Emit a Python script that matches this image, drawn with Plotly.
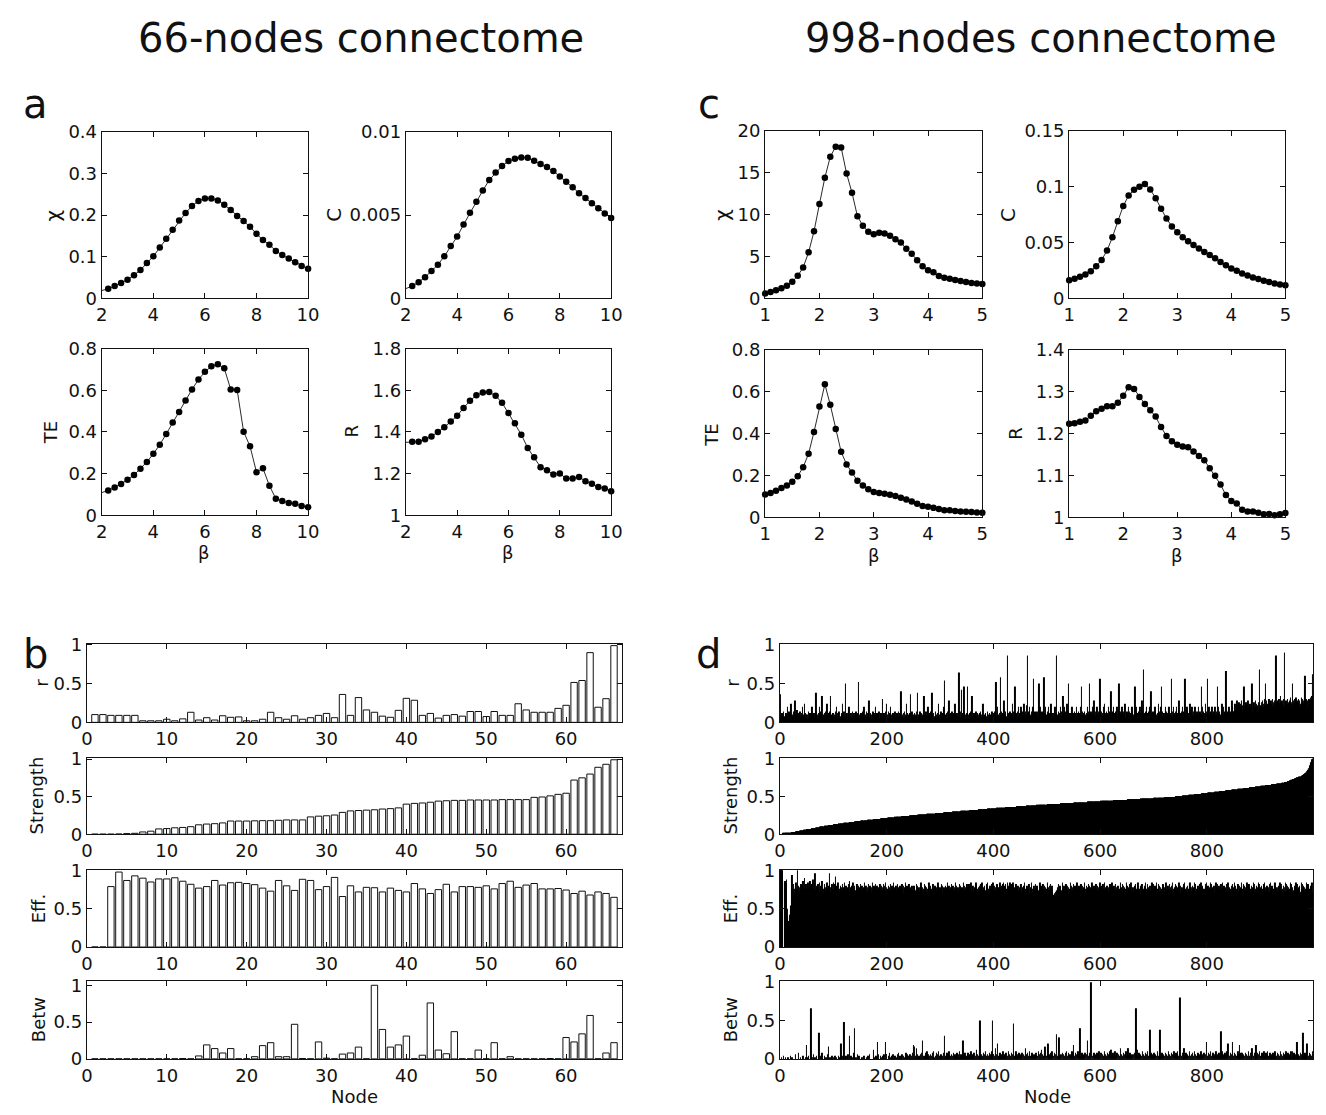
import plotly.graph_objects as go

W, H = 1326, 1115
FONT = "DejaVu Sans"
INK = "#111111"

# ---------------- data: panel a (66 nodes) ----------------
# the first value of each curve (beta = 2) is where the line enters the axes; it carries no dot
beta_66 = [2.0, 2.25, 2.5, 2.75, 3.0, 3.25, 3.5, 3.75, 4.0, 4.25, 4.5, 4.75, 5.0, 5.25, 5.5, 5.75,
           6.0, 6.25, 6.5, 6.75, 7.0, 7.25, 7.5, 7.75, 8.0, 8.25, 8.5, 8.75, 9.0, 9.25, 9.5, 9.75, 10.0]
chi_66 = [0.019, 0.0235, 0.030, 0.037, 0.045, 0.056, 0.068, 0.085, 0.101, 0.122, 0.143, 0.165, 0.187,
          0.205, 0.222, 0.234, 0.240, 0.240, 0.235, 0.225, 0.212, 0.198, 0.186, 0.172, 0.155, 0.140,
          0.129, 0.114, 0.104, 0.096, 0.087, 0.078, 0.071]
c_66 = [0.59e-3, 0.75e-3, 0.98e-3, 1.27e-3, 1.65e-3, 2.02e-3, 2.53e-3, 3.14e-3, 3.71e-3, 4.43e-3, 5.14e-3,
        5.80e-3, 6.47e-3, 7.10e-3, 7.55e-3, 7.94e-3, 8.24e-3, 8.37e-3, 8.45e-3, 8.43e-3, 8.25e-3, 8.06e-3,
        7.88e-3, 7.65e-3, 7.31e-3, 7.00e-3, 6.67e-3, 6.31e-3, 6.02e-3, 5.71e-3, 5.41e-3, 5.10e-3, 4.82e-3]
te_66 = [0.109, 0.119, 0.134, 0.150, 0.170, 0.193, 0.223, 0.256, 0.295, 0.339, 0.390, 0.445, 0.495, 0.551,
         0.604, 0.651, 0.688, 0.715, 0.724, 0.705, 0.604, 0.601, 0.401, 0.331, 0.207, 0.226, 0.142, 0.080,
         0.069, 0.059, 0.055, 0.045, 0.039]
r_66 = [1.35, 1.353, 1.353, 1.365, 1.378, 1.400, 1.422, 1.450, 1.477, 1.515, 1.549, 1.576, 1.589, 1.591,
        1.573, 1.540, 1.491, 1.442, 1.387, 1.323, 1.279, 1.231, 1.216, 1.196, 1.201, 1.176, 1.176, 1.184,
        1.163, 1.151, 1.136, 1.129, 1.116]

# ---------------- data: panel c (998 nodes) ----------------
beta_998 = [1.0, 1.1, 1.2, 1.3, 1.4, 1.5, 1.6, 1.7, 1.8, 1.9, 2.0, 2.1, 2.2, 2.3, 2.4, 2.5, 2.6, 2.7, 2.8, 2.9,
            3.0, 3.1, 3.2, 3.3, 3.4, 3.5, 3.6, 3.7, 3.8, 3.9, 4.0, 4.1, 4.2, 4.3, 4.4, 4.5, 4.6, 4.7, 4.8, 4.9, 5.0]
chi_998 = [0.59, 0.78, 0.98, 1.22, 1.53, 2.0, 2.7, 3.7, 5.5, 8.0, 11.25, 14.4, 16.9, 18.1, 18.0, 14.9, 12.6,
           9.8, 8.67, 7.96, 7.65, 7.84, 7.76, 7.49, 7.06, 6.67, 5.92, 5.33, 4.55, 3.84, 3.37, 3.14, 2.67,
           2.47, 2.35, 2.20, 2.08, 1.96, 1.84, 1.80, 1.73]
c_998 = [0.0162, 0.0176, 0.0194, 0.0215, 0.0244, 0.0288, 0.0344, 0.0429, 0.0547, 0.0691, 0.0826, 0.0921,
         0.0971, 0.1000, 0.1024, 0.0974, 0.0897, 0.0803, 0.0715, 0.0644, 0.0591, 0.0547, 0.0512, 0.0479,
         0.0447, 0.0415, 0.0388, 0.0359, 0.0326, 0.0297, 0.0268, 0.0247, 0.0224, 0.0206, 0.0188, 0.0174,
         0.0159, 0.0147, 0.0135, 0.0126, 0.0118]
te_998 = [0.109, 0.116, 0.127, 0.140, 0.152, 0.169, 0.196, 0.239, 0.303, 0.407, 0.528, 0.634, 0.536, 0.421,
          0.312, 0.252, 0.214, 0.174, 0.151, 0.134, 0.121, 0.116, 0.112, 0.107, 0.101, 0.093, 0.085, 0.075,
          0.065, 0.054, 0.050, 0.045, 0.039, 0.034, 0.033, 0.030, 0.028, 0.026, 0.025, 0.023, 0.022]
r_998 = [1.223, 1.224, 1.228, 1.231, 1.242, 1.253, 1.259, 1.265, 1.265, 1.273, 1.290, 1.310, 1.306, 1.287,
         1.270, 1.255, 1.240, 1.215, 1.194, 1.181, 1.173, 1.169, 1.167, 1.157, 1.146, 1.136, 1.117, 1.099,
         1.078, 1.053, 1.039, 1.033, 1.018, 1.014, 1.014, 1.011, 1.007, 1.008, 1.005, 1.007, 1.010]

# ---------------- data: panel b (66 nodes, per node) ----------------
node_rr_66 = [0.10, 0.10, 0.09, 0.09, 0.09, 0.09, 0.02, 0.02, 0.02, 0.04,
              0.02, 0.045, 0.13, 0.03, 0.06, 0.03, 0.085, 0.065, 0.07, 0.02,
              0.02, 0.04, 0.13, 0.06, 0.04, 0.085, 0.04, 0.06, 0.09, 0.115,
              0.06, 0.36, 0.09, 0.32, 0.16, 0.13, 0.08, 0.065, 0.155, 0.31,
              0.285, 0.09, 0.115, 0.055, 0.09, 0.10, 0.08, 0.14, 0.14, 0.075,
              0.14, 0.09, 0.09, 0.24, 0.16, 0.13, 0.13, 0.13, 0.18, 0.22,
              0.515, 0.54, 0.90, 0.195, 0.305, 0.99]
strength_66 = [0, 0, 0, 0.002, 0.008, 0.012, 0.03, 0.04, 0.07, 0.075,
               0.085, 0.09, 0.10, 0.125, 0.135, 0.14, 0.15, 0.175, 0.175, 0.175,
               0.178, 0.18, 0.18, 0.185, 0.19, 0.19, 0.19, 0.23, 0.24, 0.245,
               0.255, 0.29, 0.31, 0.315, 0.32, 0.325, 0.335, 0.34, 0.35, 0.40,
               0.41, 0.415, 0.425, 0.44, 0.445, 0.45, 0.45, 0.455, 0.455, 0.455,
               0.455, 0.46, 0.46, 0.46, 0.46, 0.49, 0.495, 0.51, 0.53, 0.545,
               0.72, 0.75, 0.80, 0.89, 0.93, 0.99]
eff_66 = [0, 0, 0.79, 0.98, 0.87, 0.93, 0.90, 0.85, 0.89, 0.89,
          0.905, 0.86, 0.82, 0.77, 0.79, 0.87, 0.81, 0.84, 0.845, 0.83,
          0.815, 0.77, 0.73, 0.87, 0.80, 0.74, 0.885, 0.87, 0.75, 0.79,
          0.91, 0.66, 0.80, 0.72, 0.78, 0.775, 0.72, 0.77, 0.74, 0.72,
          0.83, 0.76, 0.70, 0.75, 0.82, 0.72, 0.79, 0.79, 0.78, 0.80,
          0.76, 0.83, 0.86, 0.78, 0.81, 0.83, 0.76, 0.76, 0.765, 0.745,
          0.70, 0.73, 0.68, 0.72, 0.70, 0.65]
betw_66 = [0, 0, 0, 0, 0, 0, 0, 0, 0, 0,
           0, 0.005, 0, 0.04, 0.19, 0.14, 0.08, 0.14, 0, 0,
           0.03, 0.18, 0.22, 0.03, 0.03, 0.47, 0.005, 0, 0.23, 0.01,
           0, 0.065, 0.08, 0.16, 0, 1.0, 0.40, 0.16, 0.19, 0.31,
           0, 0.05, 0.76, 0.12, 0.07, 0.37, 0, 0, 0.12, 0,
           0.22, 0, 0.03, 0, 0, 0, 0, 0.005, 0, 0.29,
           0.23, 0.34, 0.59, 0, 0.08, 0.22]

# ---------------- data: panel d (998 nodes) ----------------
# each character is one node; value = position in CODE_ALPHABET * 0.02
CODE_ALPHABET = "ABCDEFGHIJKLMNOPQRSTUVWXYZabcdefghijklmnopqrstuvwxy"
node_rr_998_code = """
SEDGCFHDEC GDFKCEHDGC MFDEHCGOFD EICGDFHCEG DKFCEMGDCF
FCHDEGCFDK EFCGDETHCF DGEKFCHDRE CFGDHECMFD EGCHRDFCGE
DFCHEKDGCF HDECGFMDEH CEZDFGCHKD FCGEDHCFGE DHCFGEaCFD
EGCFDHKCEF CHDGFEOCDG FCEHDGCFKE DGCFEHCDGF CPEDGFCHEM
FDHCEGKDFC EGDFCHEDGF CHEFGDUCEF GDHCFEMDGC EFCGSDHCFE
DGFCEHDTCF EHCGDFCEGR FCDHEGKCFD GEHCTFDGCE HDFCGEMDFC
EHCFGDKbCE FGDHCEOFDG CHFEDGCMEF DGCEgFHDCV EFGCXHDFCG
XDFCEGHDFR CEDGFCHDEG FCDEGHCFDM EDCFGDECHF DCGEFDHCEG
FHDGaCEKFD GEdHCFDGEO CFHDErGCFD HEGCFMDHEX DGFCHEKDGF
GKDHFEMGCH ELFrGDHKFE HDGKcFEHGD FHEGZDKFHE GDHFdEGKDF
HEKGDFHMEG FGDHKEGrFD EHFGDKHEFR GDKHEFGMDH ZEGFDHKEGF
DHGFEKDGHF EGKDXFHEGD HFEGDKFHEZ GDHFEKGOFD HEGKDFHEGc
FHEGDKFMGE DHFGEKDHFU EGDHKFEGDH FKEGZDHFEG KDHFEGMDFH
EGKDHFEGDK HFEGXDKHFE GDHFKEGOHD iFEGDHKFEG DHKFUEGDHF
GEKHDFGEMH DFGKXEHDFG EKHDGFEHKD FGEcDHKFGE HDKGFEHODG
FHGKDEHFcG EDKHGFEMHD GKFEHDGKFE HGDKFEHGDX FKEHGDMFHE
cGHKEFDHGK FEHGKDFHEX GKDHFEGMHK EFGHKhDGFH KEHGFDOKHG
HKMGIOHLKN IMHKOGLIMX KHNLIMOHKL MIKOZHLNIK OHMKLINHiK
LNIOKMHPLZ KOMILPNKHO MLPKNIOMKr NKOLPMIRNL OMKPtLNOKM
PLNMKOQLNZ MOKPNLQMOK NPLOMKQNPL OMQeNPLOKN PMOQNLRf
"""
eff_998_code = """
yyyyyAArqr qsZUQPRVTX bvmkpjmhoq lmyjonkhpm oXrjmtnlpk
mqjnlrkoip nsjmkwlonj pmkqjnolrk mjpnlkoqjm lowjnkpmlq
jnpukmolqj mkonljpmkn qjlomknpjr kmnjolqkmo jlnpkmoljn
pkmojlnqkm oljnkpmhol nkqmjolnpk mojlknpmjo lnkpmojqln
kmojnlpkmo jlqnkmojlp nkmjolnkpm ojlnqkmojn lpkmnjolkm
onjlkpmoln kjmqolnkmj plonkmjlqn komjlnpkmo jnlkmqojln
mkpojlnkmo jlnqkmoljn pkmojlnkqm ojlnkpmojl nkmqjolnkp
nljpmokqjl mokjnlqpmk jnlomkpjql nmokjlpnqm kjlomnpkqj
ojlnkmpojn lqkmonjpql nopkmqonlp qomnpkqonm lpknmojlnk
mpkjnloqmk jnolmkpjln qkmjnolkpm jonlkmqjol nkpmjolnkm
qnjlokpmjo lhijhkgjln kpmjonlkqm jolnkpmojl nkmqjolnkp
mjolnkqmjo lnkpmjolkn qmjolknpmo jlnkqmjoln kpmjolnkmq
nkolpjmqkn ljomhnkpmo jqlnkomjpl nhokmljqnm kpjolnmkqo
ljnmpkoqlj mnkhoplmjn qkmljonpkm jlonqmkjpl nmokjlqnpk
mjolnqkmpj oknlmhjpon kmqjlnokmp jnlokqmjln pomkjnlqko
jmnlkpoqjm lnkojmpqln kjomlnqkpj mlonkjpmql nokjmlpnqk
lojmnkqpmj nlokjmqlnp kmojlpnkqm jolnmkpjoq lnmkjolpnm
kqojmlnpkj omlnqkjmpo lnkjqmolpn kjmolnqkpj mlonkjqpml
nojkmlpqnk jmolnkpjqm lonkjmpqol nkjmolqnpk jmlonkqjpm
olnkjmqpon kjlmonqkpj mlnokjqmpl onkjmlqnpo kjmlonqk
"""
betw_998_code = """
AABAAACAAB AAAABAAAAC ABAAAAAADA AAAAEAABAA AACAAAAABJ
ABCAAADhAB AADAABACAA ABRAACAAEA AACAABAADA IAABAACAAB
AACAABAAAC ABAKACAAAY ABACAADAAP AACABAAAEU ABAADAACAA
AAABAACAAA ABAACAADAA AAAAGAABAC ABLADAACAB AACADAALAB
AACAEAABAC ADAAACABAD AEAACABADA CAABAEADAC AABDACAEAJ
AIACBHADAC BADAEAMACA ACEAFADBAC ADACAEAFBA CAEADAFACA
ADACAEAPAC BAEADAFACA DACAEABDAC AEADAFBADA CAMADAEACB
AEACADAFAC ADAEACAGAD ACAEZADACA EADAFACADA CAEADAFZAC
ACAHADAKAC AEADACAFAC ADAEACAFAD ACAEADAXAC AFADACAEAD
ACAEADACAH ADAEACAFAC AEADACADAE ACAFADAEAG ADACAEIACA
AKADACAEAF ACAEADAQAC AEOACADAEA DACAEAFACA EADACAFAEJ
ACAEADAFAC AUACAEADAC AEADAMACAE ADyAACAEAD ACAEADAFAC
AEADACAFAD ACAEADAFAG ADAEACAFAC AEADACAHAD ACAEADAFAC
AHACAEADAC ADAEAChAGA CAEADACAFA DACAEADAFA CATAEADACA
EADACAFACA ETACAEADAC AEADACAFAD ACAEADAFAC AEADFACADo
ACAEADHACA EADACAFACA DAEACAFADA CAEADACAFA DACAEADALA
CAEADAFACA EADACAFACA DAEACSAFAD ACAEADAFAK ACAEADALAC
AEADACAFAD JCAEAEADAC AEADACAFAC AEADHACAEA DJCAEADAFA
CAEADAFACA EADFACAEAD ACAEADAFAC AEADACAFAD ACAEADAFAC
AEADACAFAF CAEADACALA DACAEADACR ACAEADAKAC AEADACAF
"""
# node strength of the 998-node network is sorted: level -> number of nodes
strength_998_levels = [0.00, 0.01, 0.02, 0.03, 0.04, 0.05, 0.06, 0.07, 0.08, 0.09, 0.10, 0.11,
                       0.12, 0.13, 0.14, 0.15, 0.16, 0.17, 0.18, 0.19, 0.20, 0.21, 0.22, 0.23,
                       0.24, 0.25, 0.26, 0.27, 0.28, 0.29, 0.30, 0.31, 0.32, 0.33, 0.34, 0.35,
                       0.36, 0.37, 0.38, 0.39, 0.40, 0.41, 0.42, 0.43, 0.44, 0.45, 0.46, 0.47,
                       0.48, 0.49, 0.50, 0.51, 0.52, 0.53, 0.54, 0.55, 0.56, 0.57, 0.58, 0.59,
                       0.60, 0.61, 0.62, 0.63, 0.64, 0.65, 0.66, 0.67, 0.68, 0.69, 0.70, 0.71,
                       0.72, 0.73, 0.74, 0.75, 0.76, 0.77, 0.78, 0.79, 0.80, 0.81, 0.82, 0.83,
                       0.85, 0.87, 0.89, 0.91, 0.93, 0.95, 0.97, 0.99, 1.00]
strength_998_counts = [5, 8, 8, 8, 7, 7, 7, 8, 8, 8, 8, 8,
                       9, 10, 10, 10, 11, 11, 12, 12, 13, 13, 13, 14,
                       15, 15, 16, 16, 16, 16, 16, 16, 17, 17, 17, 18,
                       19, 19, 19, 20, 25, 25, 25, 25, 25, 25, 25, 25,
                       20, 20, 13, 12, 12, 12, 12, 12, 11, 11, 11, 11,
                       11, 11, 11, 10, 10, 10, 10, 10, 5, 5, 4, 3,
                       3, 4, 4, 4, 4, 2, 2, 2, 2, 2, 1, 1,
                       2, 1, 1, 1, 1, 1, 1, 1, 1]

tick_beta_66 = [2, 4, 6, 8, 10]
tick_beta_998 = [1, 2, 3, 4, 5]
tick_node_66 = [0, 10, 20, 30, 40, 50, 60]
tick_node_998 = [0, 200, 400, 600, 800]
tick_unit = [0, 0.5, 1]


def decode(code):
    s = "".join(code.split())
    return [CODE_ALPHABET.index(ch) * 0.02 for ch in s]


node_rr_998 = decode(node_rr_998_code)
eff_998 = decode(eff_998_code)
betw_998 = decode(betw_998_code)
strength_998 = []
for lev, cnt in zip(strength_998_levels, strength_998_counts):
    strength_998 += [lev] * cnt


def nodes_of(vals):
    return list(range(1, len(vals) + 1))


# ---------------- figure ----------------
fig = go.Figure()
layout = dict(width=W, height=H, autosize=False, margin=dict(l=0, r=0, t=0, b=0),
              paper_bgcolor="white", plot_bgcolor="white", showlegend=False,
              font=dict(family=FONT, size=18, color=INK))
axis_count = [0]


def fmt(v):
    return f"{v:g}"


def common_axis():
    return dict(showline=True, linecolor=INK, linewidth=1.2, mirror="ticks", ticks="inside",
                ticklen=5, tickwidth=1, tickcolor=INK, showgrid=False, zeroline=False,
                tickfont=dict(family=FONT, size=18, color=INK), fixedrange=True)


def new_axes(px0, px1, py0, py1, xr, yr, xtv, ytv):
    axis_count[0] += 1
    k = axis_count[0]
    sx = "" if k == 1 else str(k)
    xa = common_axis()
    xa.update(domain=[px0 / W, px1 / W], range=xr, anchor="y" + sx,
              tickvals=xtv, ticktext=[fmt(v) for v in xtv])
    ya = common_axis()
    ya.update(domain=[1 - py1 / H, 1 - py0 / H], range=yr, anchor="x" + sx,
              tickvals=ytv, ticktext=[fmt(v) for v in ytv])
    layout["xaxis" + sx] = xa
    layout["yaxis" + sx] = ya
    return "x" + sx, "y" + sx


def line_panel(box, xr, yr, xtv, ytv, xs, ys, first_dot=0):
    xa, ya = new_axes(*box, xr, yr, xtv, ytv)
    fig.add_trace(go.Scatter(x=xs, y=ys, mode="lines", xaxis=xa, yaxis=ya,
                             line=dict(color="#2a2a2a", width=1),
                             cliponaxis=False, hoverinfo="skip"))
    fig.add_trace(go.Scatter(x=xs[first_dot:], y=ys[first_dot:], mode="markers", xaxis=xa, yaxis=ya,
                             marker=dict(color="#000000", size=6.5, line=dict(width=0)),
                             cliponaxis=False, hoverinfo="skip"))


# panel a
line_panel((97, 306, 123, 293), [2, 10], [0, 0.4], tick_beta_66, [0, 0.1, 0.2, 0.3, 0.4],
           beta_66, chi_66, 1)
line_panel((405, 613, 123, 293), [2, 10], [0, 0.01], tick_beta_66, [0, 0.005, 0.01],
           beta_66, c_66, 1)
line_panel((97, 306, 344, 514), [2, 10], [0, 0.8], tick_beta_66, [0, 0.2, 0.4, 0.6, 0.8],
           beta_66, te_66, 1)
line_panel((405, 613, 344, 514), [2, 10], [1, 1.8], tick_beta_66, [1, 1.2, 1.4, 1.6, 1.8],
           beta_66, r_66, 1)
# panel c
line_panel((769, 989, 122, 293), [1, 5], [0, 20], tick_beta_998, [0, 5, 10, 15, 20],
           beta_998, chi_998)
line_panel((1077, 1296, 122, 293), [1, 5], [0, 0.15], tick_beta_998, [0, 0.05, 0.1, 0.15],
           beta_998, c_998)
line_panel((769, 989, 345, 516), [1, 5], [0, 0.8], tick_beta_998, [0, 0.2, 0.4, 0.6, 0.8],
           beta_998, te_998)
line_panel((1077, 1296, 345, 516), [1, 5], [1, 1.4], tick_beta_998, [1, 1.1, 1.2, 1.3, 1.4],
           beta_998, r_998)

# panel b (white bars with outline)
rows = [(645, 725), (761, 839), (875, 954), (989, 1068)]
b_series = [node_rr_66, strength_66, eff_66, betw_66]
b_top = [1.013, 1.018, 1.013, 1.053]
for (t, b), vals, top in zip(rows, b_series, b_top):
    xa, ya = new_axes(82, 624, t, b, [0, 67], [0, top], tick_node_66, tick_unit)
    fig.add_trace(go.Bar(x=nodes_of(vals), y=vals, width=0.8, xaxis=xa, yaxis=ya,
                         marker=dict(color="white", line=dict(color=INK, width=1)),
                         hoverinfo="skip"))

# panel d (dense black bars)
d_series = [node_rr_998, strength_998, eff_998, betw_998]
for (t, b), vals in zip(rows, d_series):
    xa, ya = new_axes(784, 1324, t, b, [0, 999], [0, 1.01], tick_node_998, tick_unit)
    fig.add_trace(go.Bar(x=nodes_of(vals), y=vals, width=1.0, xaxis=xa, yaxis=ya,
                         marker=dict(color="black", line=dict(width=0)),
                         hoverinfo="skip"))


# ---------------- text ----------------
def ann(text, x, y, size=18, angle=0):
    return dict(text=text, x=x / W, y=1 - y / H, xref="paper", yref="paper", showarrow=False,
                xanchor="center", yanchor="middle", textangle=angle,
                font=dict(family=FONT, size=size, color=INK))


annotations = [
    ann("66-nodes connectome", 360, 28, 40),
    ann("998-nodes connectome", 1048, 28, 40),
    ann("a", 30, 95, 40), ann("c", 712, 95, 40),
    ann("b", 30, 655, 40), ann("d", 712, 655, 40),
    ann("χ", 48, 208, 20, -90), ann("C", 332, 208, 20, -90),
    ann("TE", 45, 430, 18, -90), ann("R", 350, 428, 18, -90),
    ann("χ", 725, 208, 20, -90), ann("C", 1015, 208, 20, -90),
    ann("TE", 715, 432, 18, -90), ann("R", 1023, 430, 18, -90),
    ann("β", 201, 552, 18), ann("β", 509, 552, 18),
    ann("β", 879, 555, 18), ann("β", 1186, 555, 18),
    ann("r", 36, 685, 18, -90), ann("Strength", 31, 800, 18, -90),
    ann("Eff.", 33, 915, 18, -90), ann("Betw", 33, 1028, 18, -90),
    ann("r", 736, 685, 18, -90), ann("Strength", 734, 800, 18, -90),
    ann("Eff.", 734, 915, 18, -90), ann("Betw", 734, 1028, 18, -90),
    ann("Node", 353, 1106, 18), ann("Node", 1055, 1106, 18),
]
layout["annotations"] = annotations
fig.update_layout(**layout)
fig.write_html("out.html", config={"displayModeBar": False},
               post_script="document.body.style.margin='0px';document.body.style.padding='0px';"
                           "document.documentElement.style.overflow='hidden';")
